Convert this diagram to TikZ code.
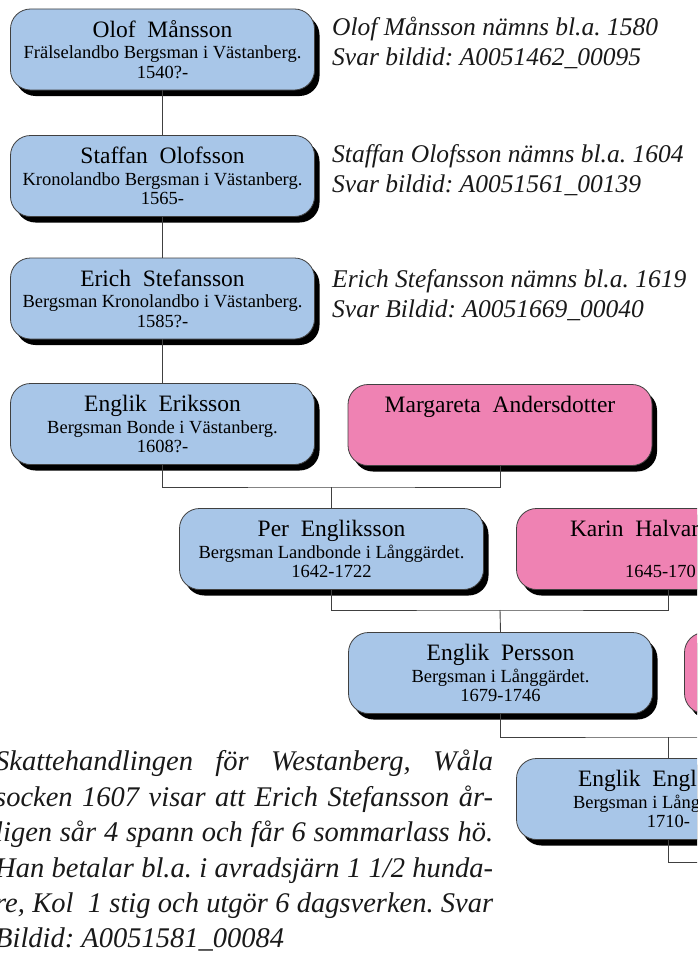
\documentclass[tikz,border=0pt]{standalone}
\usepackage{fontspec}
\setmainfont{Liberation Serif}
\frenchspacing
\usetikzlibrary{positioning, shadows}
\definecolor{man color}{RGB}{168,198,232}
\definecolor{woman color}{RGB}{239,130,179}
\tikzset{person/.style={draw=black!75, line width=0.8pt, rounded corners=20pt, minimum width=304pt, minimum height=81pt, inner sep=0pt, align=center, font=\fontsize{18.5}{18.5}\selectfont, drop shadow={shadow xshift=5pt, shadow yshift=-6pt, fill=black, opacity=1}}}
\tikzset{man/.style={person, fill=man color}}
\tikzset{woman/.style={person, fill=woman color}}
\tikzset{line/.style={draw=black!75, line width=0.9pt}}
\tikzset{note/.style={font=\fontsize{25.5}{30}\selectfont\itshape, text=black!90, align=left, inner sep=0pt, anchor=north west}}
\tikzset{tax/.style={font=\fontsize{28.5}{35.4}\selectfont\itshape, text=black!90, align=left, inner sep=0pt, anchor=north west}}
\newcommand{\person}[3]{{\fontsize{23.5}{23.5}\selectfont #1\strut}\\[0.5pt]{\fontsize{18.5}{18.5}\selectfont #2\strut}\\{\fontsize{18.5}{18.5}\selectfont #3\rule{0pt}{12.95pt}}}

\begin{document}
\begin{tikzpicture}[x=1pt, y=-1pt]
  \useasboundingbox (0,0) rectangle (697,966);
  \clip (0,0) rectangle (697,966);

  % the line of fathers
  \node[man] (olof) at (162.5,49.5) {\person{Olof~~Månsson}{Frälselandbo Bergsman i Västanberg.}{1540?-}};
  \node[man] (staffan) at (162.5,176) {\person{Staffan~~Olofsson}{Kronolandbo Bergsman i Västanberg.}{1565-}};
  \node[man] (erich) at (162.5,298.5) {\person{Erich~~Stefansson}{Bergsman Kronolandbo i Västanberg.}{1585?-}};
  \node[man] (englik) at (162.5,424) {\person{Englik~~Eriksson}{Bergsman Bonde i Västanberg.}{1608?-}};
  \node[woman] (margareta) at (500,425) {\person{Margareta~~Andersdotter}{}{}};
  \node[man] (per) at (331.5,549) {\person{Per~~Engliksson}{Bergsman Landbonde i Långgärdet.}{1642-1722}};
  \node[woman] (karin) at (668.5,549) {\person{\makebox[197pt][l]{Karin~~Halvar}}{}{\makebox[87pt][l]{1645-170}}};
  \node[man] (persson) at (500.5,673) {\person{Englik~~Persson}{Bergsman i Långgärdet.}{1679-1746}};
  \node[woman] (hustru) at (836.5,673) {};
  \node[man] (engliksson) at (668.5,799) {\person{\makebox[181pt][l]{Englik~~Engl}}{\makebox[191pt][l]{Bergsman i Lång}}{1710-}};

  % couples
  \coordinate (couple1) at (331.5,487);
  \coordinate (couple2) at (500,610);
  \coordinate (couple3) at (668.5,737);
  \coordinate (couple4) at (760,862);

  \draw[line] (olof) -- (staffan);
  \draw[line] (staffan) -- (erich);
  \draw[line] (erich) -- (englik);
  \draw[line] (englik.south) |- (couple1) -| (margareta.south);
  \draw[line] (couple1) -- (per.north);
  \draw[line] (per.south) |- (couple2) -| (karin.south);
  \draw[line] (couple2) -- (persson.north);
  \draw[line] (persson.south) |- (couple3) -| (hustru.south);
  \draw[line] (couple3) -- (engliksson.north);
  \draw[line] (engliksson.south) |- (couple4);

  % notes
  \node[note] (note1) at (332,14) {\strut Olof Månsson nämns bl.a. 1580\\\strut Svar bildid: A0051462\_00095};
  \node[note] (note2) at (332,141) {\strut Staffan Olofsson nämns bl.a. 1604\\\strut Svar bildid: A0051561\_00139};
  \node[note] (note3) at (332,266) {\strut Erich Stefansson nämns bl.a. 1619\\\strut Svar Bildid: A0051669\_00040};
  \node[tax] (skatt) at (-5,746) {%
    \makebox[498pt][s]{\strut Skattehandlingen för Westanberg, Wåla}\\
    \makebox[498pt][s]{\strut socken 1607 visar att Erich Stefansson år-}\\
    \makebox[498pt][s]{\strut ligen sår 4 spann och får 6 sommarlass hö.}\\
    \makebox[498pt][s]{\strut Han betalar bl.a. i avradsjärn 1 1/2 hunda-}\\
    \makebox[498pt][s]{\strut re, Kol\ \ 1 stig och utgör 6 dagsverken. Svar}\\
    \strut Bildid: A0051581\_00084};
\end{tikzpicture}
\end{document}
